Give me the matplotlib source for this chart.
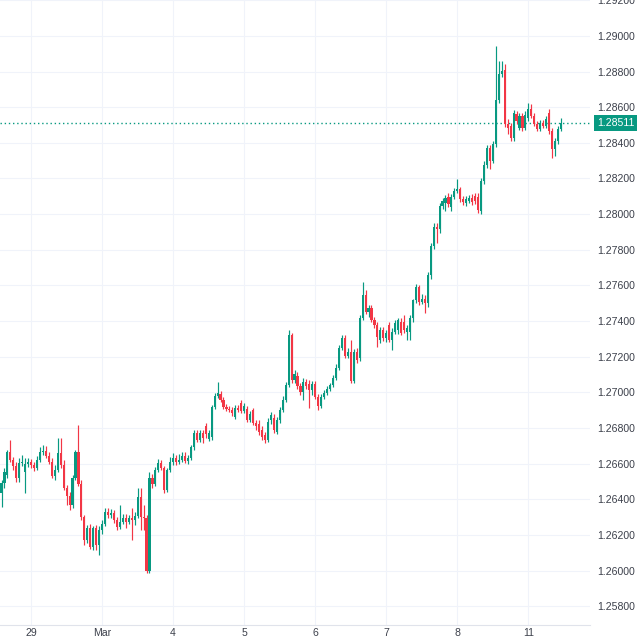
import matplotlib
matplotlib.use("Agg")
import matplotlib.pyplot as plt
import matplotlib.transforms as mtransforms

# ---- data (hourly candles) ----
opens = [
    1.26435, 1.26491, 1.26536, 1.26665, 1.26620, 1.26586, 1.26519, 1.26603, 1.26553, 1.26598,
    1.26609, 1.26592, 1.26575, 1.26620, 1.26665, 1.26670, 1.26642, 1.26609, 1.26530, 1.26564,
    1.26659, 1.26592, 1.26463, 1.26418, 1.26368, 1.26519, 1.26665, 1.26486, 1.26301, 1.26172,
    1.26239, 1.26133, 1.26239, 1.26144, 1.26228, 1.26262, 1.26329, 1.26312, 1.26323, 1.26284,
    1.26245, 1.26273, 1.26295, 1.26273, 1.26295, 1.26284, 1.26306, 1.26413, 1.26301, 1.26295,
    1.25998, 1.26519, 1.26486, 1.26564, 1.26603, 1.26575, 1.26452, 1.26564, 1.26609, 1.26631,
    1.26609, 1.26620, 1.26642, 1.26614, 1.26631, 1.26693, 1.26771, 1.26732, 1.26771, 1.26810,
    1.26738, 1.26749, 1.26917, 1.26978, 1.26990, 1.26956, 1.26917, 1.26906, 1.26900, 1.26861,
    1.26911, 1.26939, 1.26894, 1.26906, 1.26844, 1.26900, 1.26827, 1.26822, 1.26788, 1.26760,
    1.26732, 1.26844, 1.26855, 1.26777, 1.26844, 1.26900, 1.26956, 1.27040, 1.27320, 1.27068,
    1.27090, 1.27034, 1.27001, 1.27057, 1.27046, 1.27012, 1.27046, 1.26973, 1.26922, 1.26973,
    1.26995, 1.27018, 1.27040, 1.27079, 1.27135, 1.27247, 1.27303, 1.27202, 1.27225, 1.27062,
    1.27225, 1.27191, 1.27415, 1.27544, 1.27449, 1.27471, 1.27404, 1.27376, 1.27292, 1.27348,
    1.27303, 1.27376, 1.27292, 1.27337, 1.27348, 1.27393, 1.27393, 1.27337, 1.27337, 1.27415,
    1.27516, 1.27589, 1.27505, 1.27527, 1.27499, 1.27656, 1.27824, 1.27930, 1.27914, 1.28048,
    1.28065, 1.28098, 1.28042, 1.28098, 1.28132, 1.28143, 1.28087, 1.28065, 1.28076, 1.28093,
    1.28104, 1.28098, 1.28020, 1.28188, 1.28278, 1.28373, 1.28300, 1.28395, 1.28642, 1.28787,
    1.28810, 1.28507, 1.28496, 1.28429, 1.28563, 1.28485, 1.28552, 1.28485, 1.28541, 1.28591,
    1.28552, 1.28507, 1.28479, 1.28513, 1.28496, 1.28569, 1.28468, 1.28367, 1.28412, 1.28479,
]
highs = [
    1.26508, 1.26575, 1.26676, 1.26732, 1.26637, 1.26609, 1.26631, 1.26648, 1.26631, 1.26631,
    1.26626, 1.26609, 1.26642, 1.26693, 1.26704, 1.26698, 1.26665, 1.26631, 1.26592, 1.26743,
    1.26743, 1.26620, 1.26480, 1.26441, 1.26536, 1.26676, 1.26816, 1.26508, 1.26312, 1.26256,
    1.26262, 1.26250, 1.26256, 1.26250, 1.26284, 1.26351, 1.26351, 1.26346, 1.26340, 1.26301,
    1.26368, 1.26318, 1.26318, 1.26312, 1.26351, 1.26329, 1.26463, 1.26463, 1.26368, 1.26312,
    1.26553, 1.26542, 1.26581, 1.26626, 1.26620, 1.26586, 1.26575, 1.26637, 1.26659, 1.26648,
    1.26654, 1.26665, 1.26665, 1.26648, 1.26704, 1.26788, 1.26788, 1.26788, 1.26788, 1.26827,
    1.26788, 1.26928, 1.26995, 1.27057, 1.27006, 1.26973, 1.26934, 1.26922, 1.26917, 1.26928,
    1.26928, 1.26956, 1.26939, 1.26922, 1.26894, 1.26911, 1.26844, 1.26844, 1.26810, 1.26777,
    1.26855, 1.26889, 1.26878, 1.26861, 1.26917, 1.26978, 1.27057, 1.27348, 1.27331, 1.27124,
    1.27113, 1.27051, 1.27079, 1.27074, 1.27068, 1.27062, 1.27062, 1.26990, 1.26990, 1.27012,
    1.27034, 1.27051, 1.27096, 1.27158, 1.27264, 1.27320, 1.27320, 1.27247, 1.27292, 1.27242,
    1.27247, 1.27432, 1.27617, 1.27572, 1.27488, 1.27488, 1.27421, 1.27393, 1.27365, 1.27365,
    1.27348, 1.27393, 1.27359, 1.27404, 1.27415, 1.27415, 1.27432, 1.27376, 1.27432, 1.27527,
    1.27611, 1.27600, 1.27550, 1.27544, 1.27673, 1.27841, 1.27953, 1.27953, 1.28065, 1.28093,
    1.28110, 1.28121, 1.28115, 1.28149, 1.28199, 1.28154, 1.28104, 1.28104, 1.28110, 1.28115,
    1.28121, 1.28121, 1.28205, 1.28300, 1.28390, 1.28390, 1.28412, 1.28944, 1.28860, 1.28860,
    1.28843, 1.28535, 1.28513, 1.28586, 1.28580, 1.28569, 1.28569, 1.28580, 1.28625, 1.28619,
    1.28569, 1.28524, 1.28530, 1.28530, 1.28552, 1.28591, 1.28485, 1.28429, 1.28496, 1.28541,
]
lows = [
    1.26357, 1.26463, 1.26519, 1.26609, 1.26564, 1.26497, 1.26497, 1.26586, 1.26435, 1.26581,
    1.26575, 1.26558, 1.26564, 1.26609, 1.26648, 1.26631, 1.26598, 1.26519, 1.26508, 1.26553,
    1.26575, 1.26452, 1.26368, 1.26340, 1.26351, 1.26508, 1.26474, 1.26284, 1.26144, 1.26155,
    1.26122, 1.26116, 1.26116, 1.26088, 1.26206, 1.26250, 1.26295, 1.26295, 1.26267, 1.26228,
    1.26234, 1.26262, 1.26239, 1.26262, 1.26172, 1.26256, 1.26295, 1.26228, 1.26228, 1.25987,
    1.25987, 1.26463, 1.26474, 1.26553, 1.26564, 1.26435, 1.26441, 1.26553, 1.26592, 1.26592,
    1.26598, 1.26609, 1.26603, 1.26598, 1.26620, 1.26676, 1.26721, 1.26721, 1.26715, 1.26743,
    1.26726, 1.26732, 1.26906, 1.26967, 1.26945, 1.26906, 1.26894, 1.26889, 1.26866, 1.26850,
    1.26889, 1.26883, 1.26883, 1.26833, 1.26833, 1.26816, 1.26788, 1.26760, 1.26732, 1.26715,
    1.26721, 1.26822, 1.26771, 1.26766, 1.26827, 1.26889, 1.26945, 1.27029, 1.27051, 1.27051,
    1.27018, 1.26984, 1.26956, 1.27018, 1.26911, 1.26984, 1.26962, 1.26900, 1.26911, 1.26962,
    1.26984, 1.27006, 1.27029, 1.27068, 1.27124, 1.27236, 1.27191, 1.27191, 1.27051, 1.27051,
    1.27163, 1.27174, 1.27404, 1.27438, 1.27426, 1.27393, 1.27359, 1.27253, 1.27275, 1.27286,
    1.27281, 1.27281, 1.27236, 1.27326, 1.27326, 1.27320, 1.27331, 1.27292, 1.27292, 1.27393,
    1.27499, 1.27488, 1.27494, 1.27443, 1.27482, 1.27639, 1.27807, 1.27841, 1.27897, 1.28031,
    1.28020, 1.28042, 1.28020, 1.28087, 1.28121, 1.28070, 1.28054, 1.28048, 1.28065, 1.28054,
    1.28059, 1.28009, 1.28003, 1.28171, 1.28261, 1.28255, 1.28289, 1.28378, 1.28625, 1.28770,
    1.28490, 1.28451, 1.28412, 1.28412, 1.28507, 1.28474, 1.28468, 1.28474, 1.28524, 1.28541,
    1.28496, 1.28468, 1.28468, 1.28485, 1.28485, 1.28451, 1.28317, 1.28328, 1.28395, 1.28468,
]
closes = [
    1.26491, 1.26553, 1.26665, 1.26620, 1.26586, 1.26519, 1.26603, 1.26609, 1.26598, 1.26609,
    1.26592, 1.26575, 1.26620, 1.26665, 1.26670, 1.26642, 1.26609, 1.26530, 1.26564, 1.26659,
    1.26592, 1.26463, 1.26418, 1.26368, 1.26519, 1.26665, 1.26486, 1.26301, 1.26172, 1.26239,
    1.26133, 1.26239, 1.26144, 1.26228, 1.26262, 1.26329, 1.26312, 1.26323, 1.26284, 1.26245,
    1.26273, 1.26295, 1.26273, 1.26295, 1.26284, 1.26306, 1.26413, 1.26301, 1.26295, 1.25998,
    1.26519, 1.26486, 1.26564, 1.26603, 1.26575, 1.26452, 1.26564, 1.26609, 1.26631, 1.26609,
    1.26620, 1.26642, 1.26614, 1.26631, 1.26693, 1.26771, 1.26732, 1.26771, 1.26743, 1.26766,
    1.26771, 1.26917, 1.26978, 1.26995, 1.26956, 1.26917, 1.26906, 1.26900, 1.26883, 1.26911,
    1.26900, 1.26894, 1.26922, 1.26844, 1.26878, 1.26827, 1.26810, 1.26777, 1.26749, 1.26732,
    1.26833, 1.26872, 1.26788, 1.26844, 1.26900, 1.26956, 1.27040, 1.27320, 1.27068, 1.27102,
    1.27034, 1.27001, 1.27057, 1.27034, 1.27012, 1.27046, 1.26973, 1.26922, 1.26973, 1.26995,
    1.27018, 1.27040, 1.27079, 1.27135, 1.27247, 1.27303, 1.27202, 1.27225, 1.27062, 1.27225,
    1.27180, 1.27415, 1.27544, 1.27449, 1.27471, 1.27404, 1.27376, 1.27309, 1.27348, 1.27303,
    1.27331, 1.27292, 1.27337, 1.27387, 1.27404, 1.27331, 1.27348, 1.27359, 1.27415, 1.27516,
    1.27589, 1.27505, 1.27527, 1.27499, 1.27656, 1.27824, 1.27930, 1.27914, 1.28048, 1.28076,
    1.28093, 1.28059, 1.28098, 1.28132, 1.28143, 1.28087, 1.28070, 1.28087, 1.28093, 1.28070,
    1.28076, 1.28026, 1.28188, 1.28278, 1.28373, 1.28300, 1.28395, 1.28642, 1.28787, 1.28804,
    1.28507, 1.28485, 1.28429, 1.28569, 1.28524, 1.28552, 1.28485, 1.28558, 1.28591, 1.28552,
    1.28507, 1.28479, 1.28513, 1.28496, 1.28535, 1.28468, 1.28367, 1.28412, 1.28479, 1.28511,
]
date_tick_pos = [10, 34, 58, 82, 106, 130, 154, 178]
date_tick_labels = ["29", "Mar", "4", "5", "6", "7", "8", "11"]
price_ticks = [1.258, 1.260, 1.262, 1.264, 1.266, 1.268, 1.270, 1.272, 1.274,
               1.276, 1.278, 1.280, 1.282, 1.284, 1.286, 1.288, 1.290, 1.292]

UP = "#089981"
DOWN = "#f23645"
GRID = "#f0f3fa"
TXT = "#3c404b"

plt.rcParams["font.family"] = ["Liberation Sans", "DejaVu Sans"]

fig = plt.figure(figsize=(6.4, 6.4), dpi=100)
fig.patch.set_facecolor("white")
ax = fig.add_axes([0.0, 15 / 640, 590 / 640, 625 / 640])
ax.set_facecolor("white")

n = len(closes)
xs = list(range(n))
cols = [UP if c >= o else DOWN for o, c in zip(opens, closes)]
ax.vlines(xs, lows, highs, colors=cols, linewidth=0.85, zorder=3)
bottoms = [min(o, c) for o, c in zip(opens, closes)]
heights = [max(abs(c - o), 0.00003) for o, c in zip(opens, closes)]
ax.bar(xs, heights, bottom=bottoms, width=0.72, color=cols, linewidth=0, zorder=4)

ax.set_xlim(-0.507, 198.82)
ax.set_ylim(1.25696, 1.29201)

ax.set_xticks(date_tick_pos)
ax.set_xticklabels(date_tick_labels)
ax.set_yticks(price_ticks)
ax.set_yticklabels([f"{v:.5f}" for v in price_ticks])
ax.yaxis.tick_right()
ax.tick_params(axis="y", length=0, pad=5, labelsize=7.6, labelcolor=TXT)
ax.tick_params(axis="x", length=0, pad=2.5, labelsize=7.6, labelcolor=TXT)
ax.grid(True, color=GRID, linewidth=0.8, zorder=0)
ax.set_axisbelow(True)
for s in ["top", "left", "right"]:
    ax.spines[s].set_visible(False)
ax.spines["bottom"].set_color("#e0e3eb")
ax.spines["bottom"].set_linewidth(0.8)

last = closes[-1]
ax.axhline(last, color=UP, linewidth=1.0, linestyle=(0, (1, 2)), zorder=2)
trans = mtransforms.blended_transform_factory(ax.transAxes, ax.transData)
ax.text(1.0115, last, f"{last:.5f}", transform=trans, ha="left", va="center",
        fontsize=7.6, color="white", clip_on=False,
        bbox=dict(boxstyle="square,pad=0.3", facecolor=UP, edgecolor="none"))

fig.savefig("out.png", dpi=100)
